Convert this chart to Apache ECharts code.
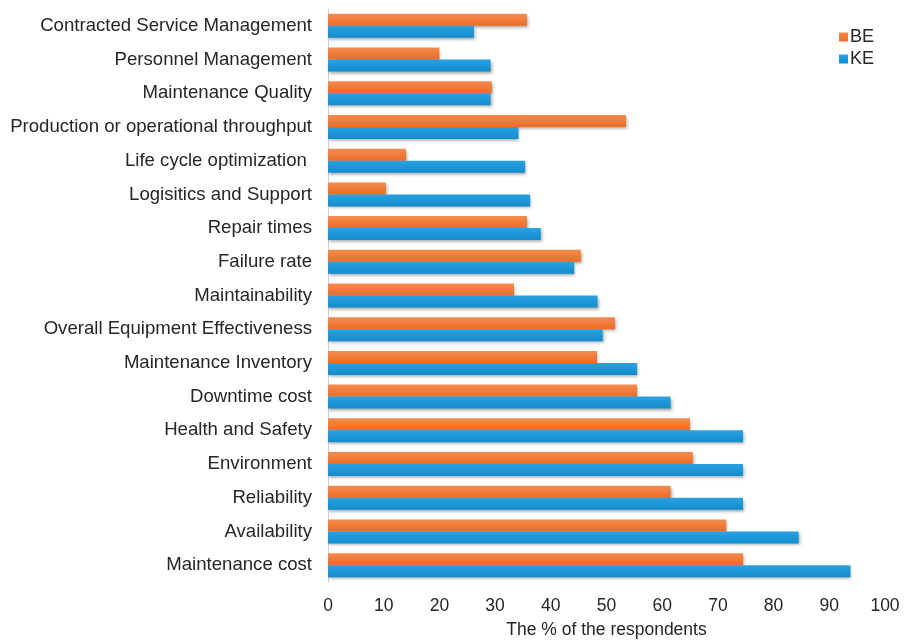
<!DOCTYPE html>
<html>
<head>
<meta charset="utf-8">
<script src="https://cdn.jsdelivr.net/npm/echarts@6/dist/echarts.min.js"></script>
<style>
  html, body { margin: 0; padding: 0; background: #fff; }
  #chart { width: 913px; height: 640px; }
</style>
</head>
<body>
<div id="chart"></div>
<script>
  // categories listed bottom to top
  const categories = [
    'Maintenance cost', 'Availability', 'Reliability', 'Environment', 'Health and Safety',
    'Downtime cost', 'Maintenance Inventory', 'Overall Equipment Effectiveness', 'Maintainability',
    'Failure rate', 'Repair times', 'Logisitics and Support', 'Life cycle optimization ',
    'Production or operational throughput', 'Maintenance Quality', 'Personnel Management',
    'Contracted Service Management'
  ]
  const beValues = [74.5, 71.5, 61.5, 65.5, 65, 55.5, 48.3, 51.5, 33.4, 45.4, 35.7, 10.4, 14, 53.5, 29.4, 20, 35.7]
  const keValues = [93.8, 84.5, 74.5, 74.5, 74.5, 61.5, 55.5, 49.3, 48.4, 44.2, 38.2, 36.3, 35.4, 34.2, 29.2, 29.2, 26.2]
  const xTicks = [0, 10, 20, 30, 40, 50, 60, 70, 80, 90, 100]

  const chart = echarts.init(document.getElementById('chart'))
  const font = 'Liberation Sans, Arial, sans-serif'
  const shadow = { shadowBlur: 3, shadowColor: 'rgba(0,0,0,0.35)', shadowOffsetX: 1, shadowOffsetY: 2 }

  chart.setOption({
    animation: false,
    textStyle: { fontFamily: font },
    grid: { left: 328, right: 28, top: 9, bottom: 58, outerBoundsMode: 'none', containLabel: false },
    legend: {
      orient: 'vertical',
      left: 834, top: 23,
      itemWidth: 9, itemHeight: 9, itemGap: 4,
      icon: 'rect',
      data: ['BE', 'KE'],
      textStyle: { fontSize: 18, color: '#262626', padding: [0, 0, 0, -3] }
    },
    xAxis: {
      type: 'value', min: 0, max: 100, interval: 10,
      axisLine: { show: false }, axisTick: { show: false }, splitLine: { show: false },
      axisLabel: { fontSize: 17.5, color: '#262626', margin: 15,
        formatter: v => xTicks.includes(v) ? String(v) : '' },
      name: 'The % of the respondents', nameLocation: 'middle', nameGap: 39,
      nameTextStyle: { fontSize: 17.5, color: '#262626' }
    },
    yAxis: {
      type: 'category', data: categories,
      axisLine: { show: true, lineStyle: { color: '#d0d0d0', width: 1 } },
      axisTick: { show: false },
      axisLabel: { fontSize: 18.6, color: '#262626', margin: 16 }
    },
    series: [
      {
        name: 'BE', type: 'bar', data: beValues, barWidth: 12, barGap: '0%',
        itemStyle: Object.assign({
          color: new echarts.graphic.LinearGradient(0, 0, 0, 1, [
            { offset: 0, color: '#F58C4E' }, { offset: 1, color: '#EC6C25' }])
        }, shadow)
      },
      {
        name: 'KE', type: 'bar', data: keValues, barWidth: 12, barGap: '0%',
        itemStyle: Object.assign({
          color: new echarts.graphic.LinearGradient(0, 0, 0, 1, [
            { offset: 0, color: '#2BA2E0' }, { offset: 1, color: '#128CCD' }])
        }, shadow)
      }
    ]
  })
</script>
</body>
</html>
